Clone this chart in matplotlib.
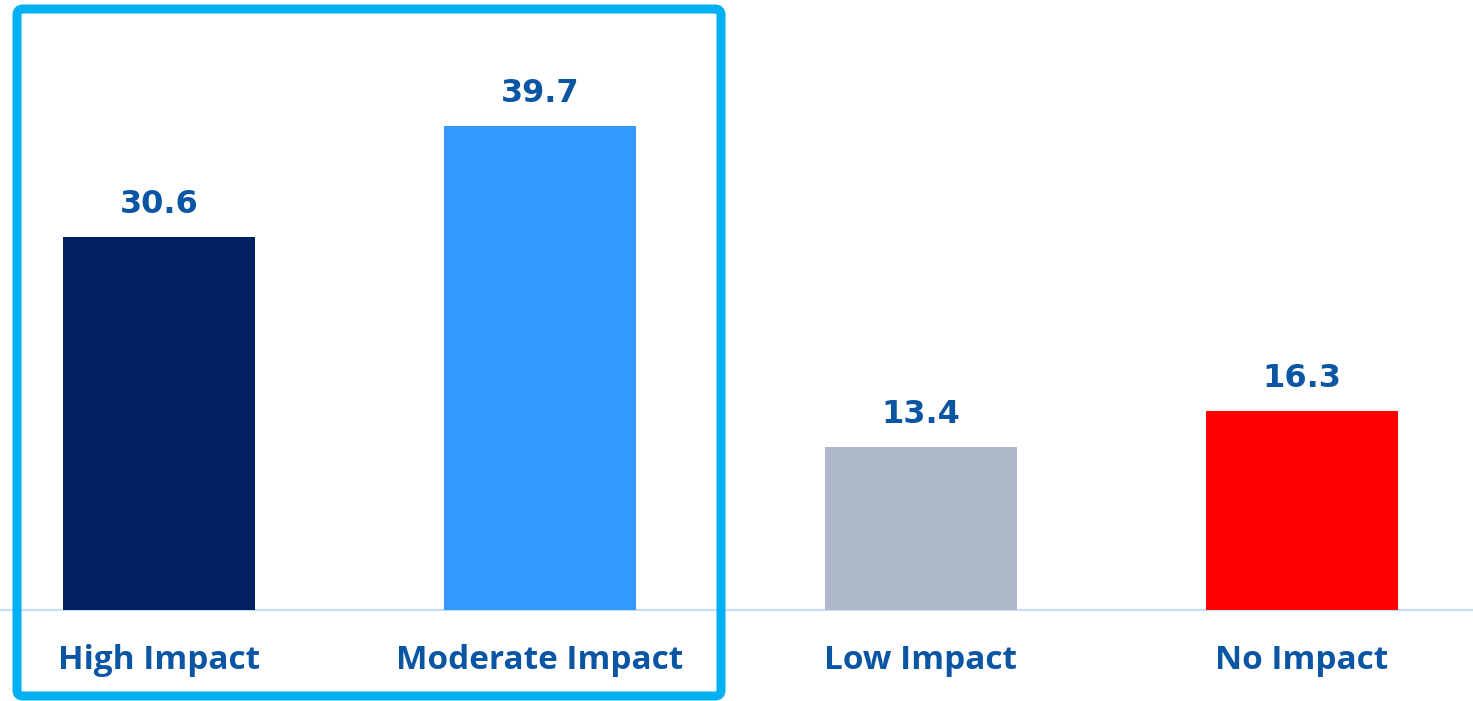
import matplotlib
matplotlib.use("Agg")
import matplotlib.pyplot as plt
from matplotlib.patches import FancyBboxPatch
from matplotlib.transforms import IdentityTransform

# data
categories = ["High Impact", "Moderate Impact", "Low Impact", "No Impact"]
values = [30.6, 39.7, 13.4, 16.3]
bar_colors = ["#002060", "#3399FF", "#ADB9CA", "#FF0000"]

text_blue = "#0B56A4"
plt.rcParams['font.family'] = ['Open Sans', 'DejaVu Sans']

fig = plt.figure(figsize=(14.73, 7.01), dpi=100)
ax = fig.add_axes([0, 0, 1, 1])

x = list(range(len(categories)))
bars = ax.bar(x, values, width=0.504, color=bar_colors, zorder=2)

ax.set_xlim(-0.417, 3.449)
ax.set_ylim(-7.46, 50)
ax.axhline(0, color="#C5DEF5", lw=1.5, zorder=1)

# value labels above bars
for xi, v in zip(x, values):
    ax.annotate(f"{v:.1f}", (xi, v), xytext=(0, 12), textcoords="offset points",
                ha="center", va="bottom", fontsize=23, fontweight="bold",
                color=text_blue, family="DejaVu Sans")

# category labels under the baseline
for xi, c in zip(x, categories):
    ax.text(xi, -4.15, c, ha="center", va="center", fontsize=24,
            fontweight="bold", color=text_blue)

ax.axis("off")

# highlight box around first two bars (pixel coords, origin bottom-left)
box = FancyBboxPatch((17, 701 - 696), 704, 687, boxstyle="round,pad=0,rounding_size=6",
                     fill=False, edgecolor="#00B0F0", lw=6.5, zorder=5)
box.set_transform(IdentityTransform())
fig.patches.append(box)

fig.savefig("out.png", dpi=100)
